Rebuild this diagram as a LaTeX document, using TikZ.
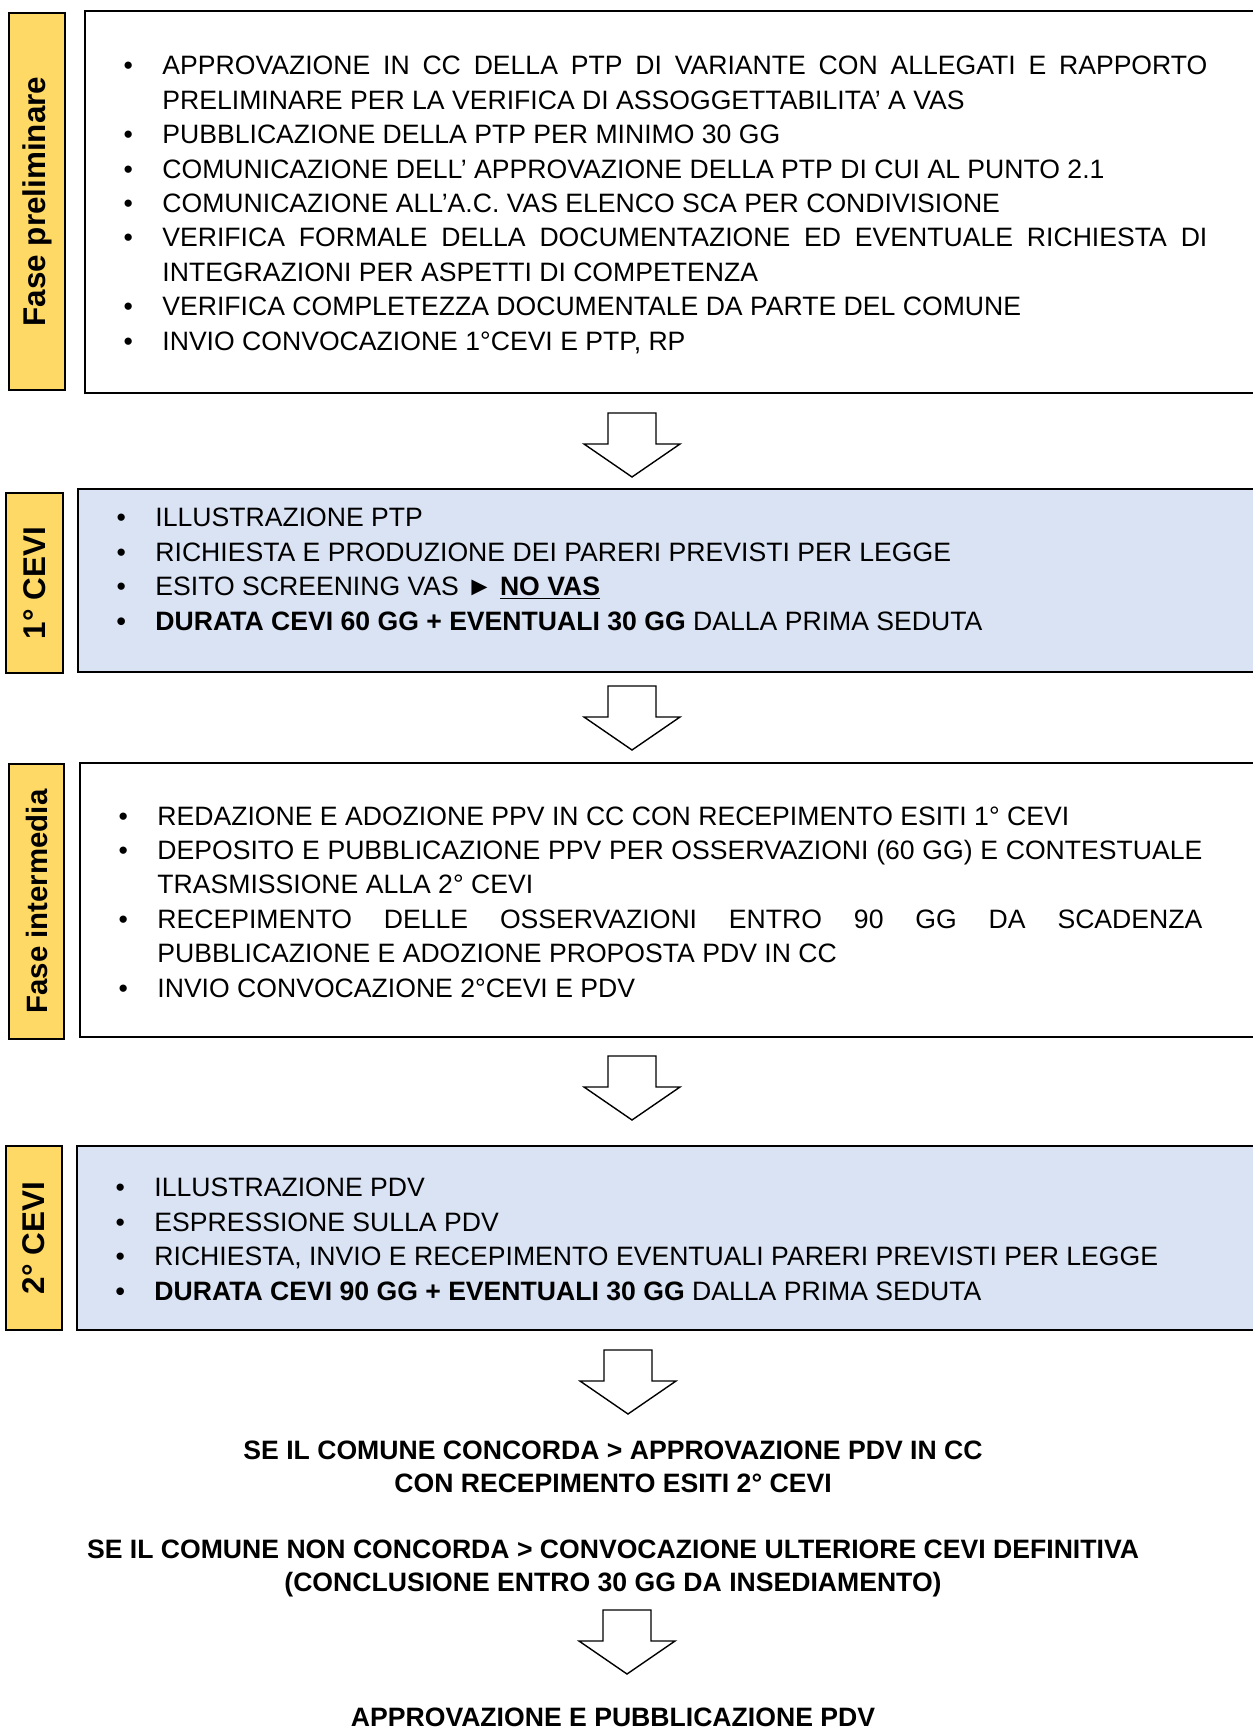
\documentclass[tikz,border=0pt]{standalone}
\usepackage{fontspec}
\setmainfont{Liberation Sans}
\usepackage{tikz}
\usetikzlibrary{positioning, calc}
\definecolor{giallo}{RGB}{255,217,102}
\definecolor{azzurro}{RGB}{218,227,243}
\hyphenpenalty=10000
\exhyphenpenalty=10000
\tolerance=10000
\newenvironment{voci}{\begin{list}{\textbullet}{%
  \setlength{\leftmargin}{39pt}\setlength{\rightmargin}{33.5pt}%
  \setlength{\labelwidth}{20pt}\setlength{\labelsep}{14.7pt}%
  \setlength{\itemsep}{0pt}\setlength{\parsep}{0pt}%
  \setlength{\topsep}{0pt}\setlength{\partopsep}{0pt}}}{\end{list}}
\tikzset{
  cornice/.style={rectangle, draw=black, line width=1pt, anchor=west,
    minimum width=595pt, inner sep=0pt},
  cornicecevi/.style={cornice, fill=azzurro},
  elenco/.style={anchor=west, text width=595pt, inner sep=0pt, align=justify,
    font=\fontsize{13.3pt}{17.2pt}\selectfont},
  etichetta/.style={rectangle, draw=black, fill=giallo, line width=1pt,
    rotate=90, inner sep=0pt, font=\fontsize{15.7pt}{18pt}\selectfont\bfseries},
  freccia/.pic={
    \draw[line width=0.7pt, fill=white] (-24,0) -- (24,0) -- (24,31) -- (48,31)
      -- (0,64) -- (-48,31) -- (-24,31) -- cycle;
  },
  esito/.style={align=center, inner sep=0pt,
    font=\fontsize{13.3pt}{16.5pt}\selectfont\bfseries}
}
\begin{document}
\begin{tikzpicture}[x=0.5pt, y=-0.5pt]
  \useasboundingbox (0,0) rectangle (1252,1727);
  % fase preliminare
  \node[etichetta, minimum width=188.5pt, minimum height=28pt] (lab1) at (37,201.5) {Fase preliminare};
  \node[cornice, minimum height=191pt] (fase1) at (84,202) {};
  \node[elenco, yshift=2.5pt] (testo1) at (fase1.west) {%
    \begin{voci}
    \item APPROVAZIONE IN CC DELLA PTP DI VARIANTE CON ALLEGATI E RAPPORTO PRELIMINARE PER LA VERIFICA DI ASSOGGETTABILITA’ A VAS
    \item PUBBLICAZIONE DELLA PTP PER MINIMO 30 GG
    \item COMUNICAZIONE DELL’ APPROVAZIONE DELLA PTP DI CUI AL PUNTO 2.1
    \item COMUNICAZIONE ALL’A.C. VAS ELENCO SCA PER CONDIVISIONE
    \item VERIFICA FORMALE DELLA DOCUMENTAZIONE ED EVENTUALE RICHIESTA DI INTEGRAZIONI PER ASPETTI DI COMPETENZA
    \item VERIFICA COMPLETEZZA DOCUMENTALE DA PARTE DEL COMUNE
    \item INVIO CONVOCAZIONE 1°CEVI E PTP, RP
    \end{voci}};
  \pic (freccia1) at ($(fase1.south west)+(548,19)$) {freccia};
  % 1 cevi
  \node[etichetta, minimum width=90pt, minimum height=28.5pt] (lab2) at (34.5,583) {1° CEVI};
  \node[cornicecevi, minimum height=91.5pt] (cevi1) at (77,580.5) {};
  \node[elenco, yshift=9.5pt] (testo2) at (cevi1.west) {%
    \begin{voci}
    \item ILLUSTRAZIONE PTP
    \item RICHIESTA E PRODUZIONE DEI PARERI PREVISTI PER LEGGE
    \item ESITO SCREENING VAS ► \underline{\textbf{NO VAS}}
    \item[\textbf{\textbullet}] \textbf{DURATA CEVI 60 GG + EVENTUALI 30 GG} DALLA PRIMA SEDUTA
    \end{voci}};
  \pic (freccia2) at ($(cevi1.south west)+(555,13)$) {freccia};
  % fase intermedia
  \node[etichetta, minimum width=137.5pt, minimum height=27.5pt,
    font=\fontsize{14.7pt}{17pt}\selectfont\bfseries] (lab3) at (36.5,901.5) {Fase intermedia};
  \node[cornice, minimum height=137pt] (fase2) at (79,900) {};
  \node[elenco, yshift=3pt] (testo3) at (fase2.west) {%
    \begin{voci}
    \item REDAZIONE E ADOZIONE PPV IN CC CON RECEPIMENTO ESITI 1° CEVI
    \item DEPOSITO E PUBBLICAZIONE PPV PER OSSERVAZIONI (60 GG) E CONTESTUALE TRASMISSIONE ALLA 2° CEVI
    \item RECEPIMENTO DELLE OSSERVAZIONI ENTRO 90 GG DA SCADENZA PUBBLICAZIONE E ADOZIONE PROPOSTA PDV IN CC
    \item INVIO CONVOCAZIONE 2°CEVI E PDV
    \end{voci}};
  \pic (freccia3) at ($(fase2.south west)+(553,18)$) {freccia};
  % 2 cevi
  \node[etichetta, minimum width=92pt, minimum height=28pt] (lab4) at (34,1238) {2° CEVI};
  \node[cornicecevi, minimum height=92pt] (cevi2) at (76,1238) {};
  \node[elenco, yshift=3.3pt] (testo4) at (cevi2.west) {%
    \begin{voci}
    \item ILLUSTRAZIONE PDV
    \item ESPRESSIONE SULLA PDV
    \item RICHIESTA, INVIO E RECEPIMENTO EVENTUALI PARERI PREVISTI PER LEGGE
    \item[\textbf{\textbullet}] \textbf{DURATA CEVI 90 GG + EVENTUALI 30 GG} DALLA PRIMA SEDUTA
    \end{voci}};
  \pic (freccia4) at ($(cevi2.south west)+(552,19)$) {freccia};
  % esiti
  \node[esito] (concorda) at (613,1466.5) {SE IL COMUNE CONCORDA > APPROVAZIONE PDV IN CC\\CON RECEPIMENTO ESITI 2° CEVI};
  \node[esito] (nonconcorda) at (613,1568.3) {SE IL COMUNE NON CONCORDA > CONVOCAZIONE ULTERIORE CEVI DEFINITIVA\\(CONCLUSIONE ENTRO 30 GG DA INSEDIAMENTO)};
  \pic (freccia5) at (627,1610) {freccia};
  \node[esito, anchor=base] (approvazione) at (613,1726) {APPROVAZIONE E PUBBLICAZIONE PDV};
\end{tikzpicture}
\end{document}
